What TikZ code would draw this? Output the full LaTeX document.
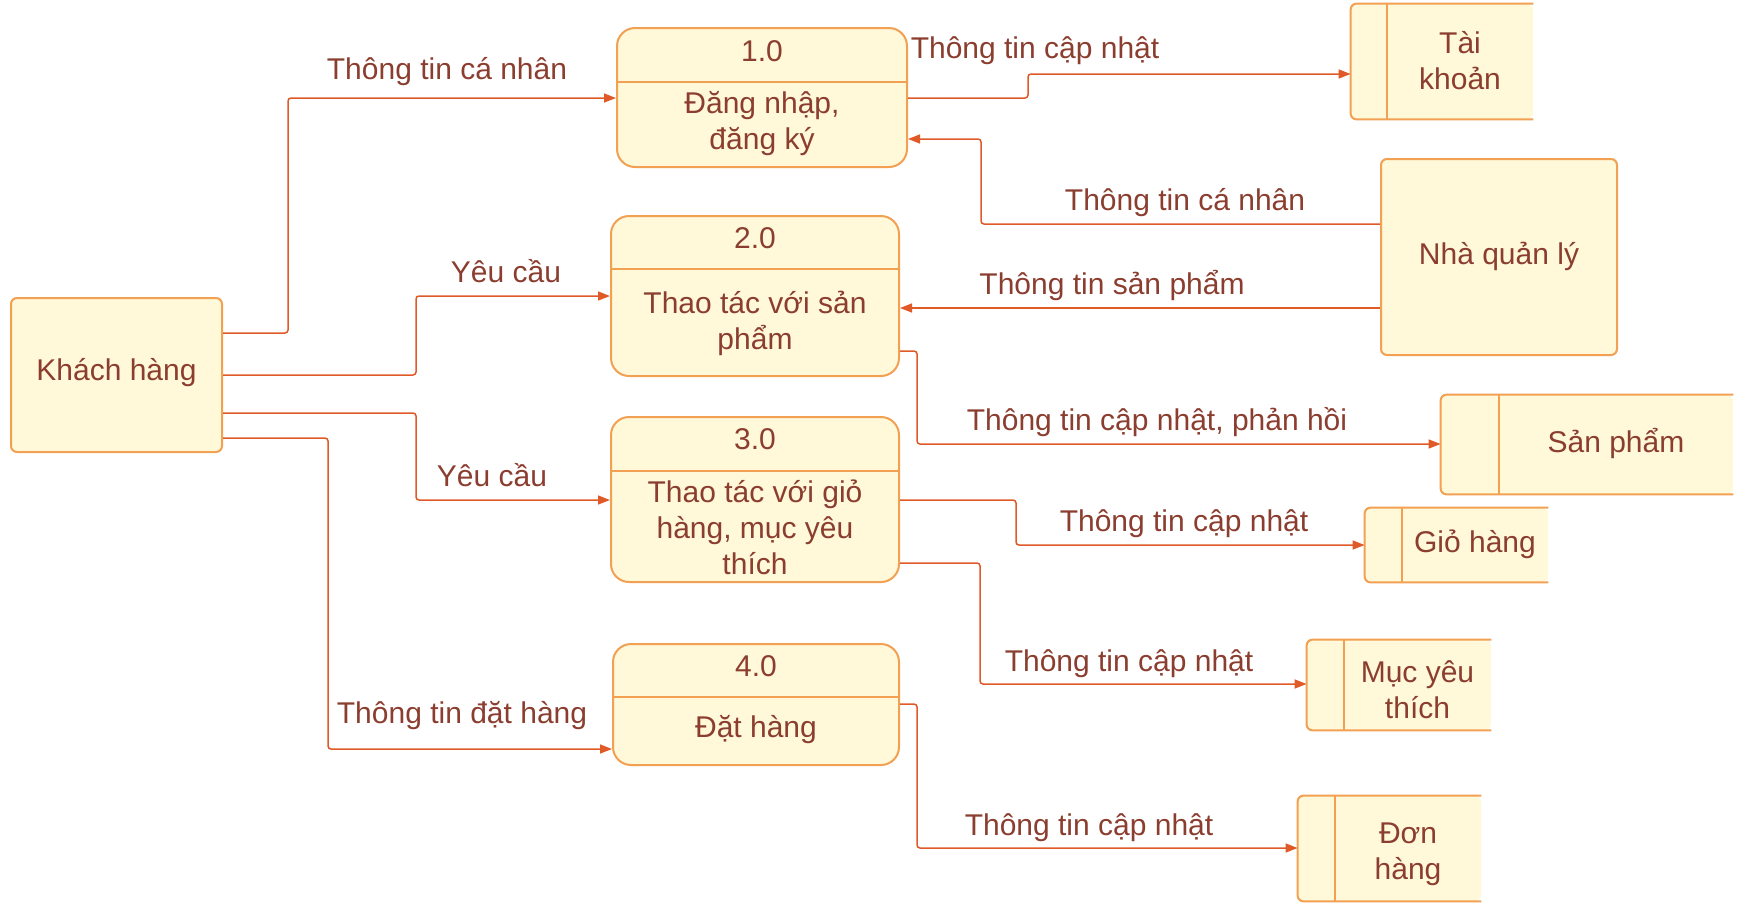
\documentclass[tikz,border=0pt]{standalone}
\usepackage{fontspec}
\setmainfont{Liberation Sans}
\usetikzlibrary{arrows.meta}
\definecolor{boxfill}{HTML}{FFF8D9}
\definecolor{boxline}{HTML}{F2A052}
\definecolor{txt}{HTML}{8B3E2F}
\definecolor{flowline}{HTML}{E05A28}
\tikzstyle{entity} = [draw=boxline, fill=boxfill, line width=1pt, rounded corners=3pt, inner sep=0pt]
\tikzstyle{proc} = [entity, rounded corners=9pt]
\tikzstyle{store} = [fill=boxfill, rounded corners=3pt, inner sep=0pt]
\tikzstyle{storeline} = [draw=boxline, line width=1pt, rounded corners=3pt]
\tikzstyle{divider} = [draw=boxline, line width=0.75pt]
\tikzstyle{lbl} = [text=txt, font=\fontsize{15}{18}\selectfont, align=center, inner sep=0pt, anchor=base]
\tikzstyle{flow} = [draw=flowline, line width=0.75pt, rounded corners=1.5pt, -{Triangle[length=6pt,width=4.5pt]}]

\begin{document}
\begin{tikzpicture}[x=0.5pt, y=-0.5pt]
    \useasboundingbox (0,0) rectangle (1741,911);
    % external entities
    \node[entity, minimum width=105.5pt, minimum height=77pt](kh) at (116.5,375){};
    \node[lbl](kht) at (116.5,380){Khách hàng};
    \node[entity, minimum width=118pt, minimum height=98pt](nql) at (1499,257){};
    \node[lbl](nqlt) at (1499,264){Nhà quản lý};
    % processes (multi-line texts sit on their last baseline)
    \node[proc, minimum width=145pt, minimum height=69.5pt](p1) at (762,97.5){};
    \draw[divider] (p1.west |- 0,82) -- (p1.east |- 0,82);
    \node[lbl](p1n) at (762,61){1.0};
    \node[lbl](p1t) at (762,149){Đăng nhập,\\đăng ký};
    \node[proc, minimum width=144pt, minimum height=80pt](p2) at (755,296){};
    \draw[divider] (p2.west |- 0,269) -- (p2.east |- 0,269);
    \node[lbl](p2n) at (755,248){2.0};
    \node[lbl](p2t) at (755,349){Thao tác với sản\\phẩm};
    \node[proc, minimum width=144pt, minimum height=82.5pt](p3) at (755,499.5){};
    \draw[divider] (p3.west |- 0,471) -- (p3.east |- 0,471);
    \node[lbl](p3n) at (755,449){3.0};
    \node[lbl](p3t) at (755,574){Thao tác với giỏ\\hàng, mục yêu\\thích};
    \node[proc, minimum width=143pt, minimum height=60.5pt](p4) at (756,704.5){};
    \draw[divider] (p4.west |- 0,697) -- (p4.east |- 0,697);
    \node[lbl](p4n) at (756,676){4.0};
    \node[lbl](p4t) at (756,737){Đặt hàng};
    % data stores
    \node[store, minimum width=91pt, minimum height=57.5pt](tk) at (1442,61.5){};
    \draw[storeline] (tk.north east) -- (tk.north west) -- (tk.south west) -- (tk.south east);
    \draw[storeline] (tk.north west) ++(36,0) -- ++(0,115);
    \node[lbl](tkt) at (1460,89){Tài\\khoản};
    \node[store, minimum width=146pt, minimum height=49.5pt](sp) at (1587,444.5){};
    \draw[storeline] (sp.north east) -- (sp.north west) -- (sp.south west) -- (sp.south east);
    \draw[storeline] (sp.north west) ++(58,0) -- ++(0,99);
    \node[lbl](spt) at (1616,452){Sản phẩm};
    \node[store, minimum width=91.5pt, minimum height=37pt](gh) at (1456.5,545){};
    \draw[storeline] (gh.north east) -- (gh.north west) -- (gh.south west) -- (gh.south east);
    \draw[storeline] (gh.north west) ++(37,0) -- ++(0,74);
    \node[lbl](ght) at (1475,552){Giỏ hàng};
    \node[store, minimum width=92pt, minimum height=45pt](myt) at (1399,685){};
    \draw[storeline] (myt.north east) -- (myt.north west) -- (myt.south west) -- (myt.south east);
    \draw[storeline] (myt.north west) ++(37,0) -- ++(0,90);
    \node[lbl](mytt) at (1417.5,718){Mục yêu\\thích};
    \node[store, minimum width=91.5pt, minimum height=52.5pt](dh) at (1389.5,848.5){};
    \draw[storeline] (dh.north east) -- (dh.north west) -- (dh.south west) -- (dh.south east);
    \draw[storeline] (dh.north west) ++(37,0) -- ++(0,105);
    \node[lbl](dht) at (1408,879){Đơn\\hàng};
    % flows
    \draw[flow] (kh.east |- 0,333) -| (288,98) -- (p1.west |- 0,98);
    \draw[flow] (kh.east |- 0,375) -| (416,296) -- (p2.west |- 0,296);
    \draw[flow] (kh.east |- 0,413) -| (416,500) -- (p3.west |- 0,500);
    \draw[flow] (kh.east |- 0,438) -| (328,749) -- (p4.west |- 0,749);
    \draw[flow] (p1.east |- 0,98) -| (1028,74) -- (tk.west |- 0,74);
    \draw[flow] (nql.west |- 0,224) -| (981,139) -- (p1.east |- 0,139);
    \draw[flow] (nql.west |- 0,308) -- (p2.east |- 0,308);
    \draw[flow] (p2.east |- 0,351) -| (917,444) -- (sp.west |- 0,444);
    \draw[flow] (p3.east |- 0,500) -| (1016,545) -- (gh.west |- 0,545);
    \draw[flow] (p3.east |- 0,563) -| (980,684) -- (myt.west |- 0,684);
    \draw[flow] (p4.east |- 0,704) -| (917,848) -- (dh.west |- 0,848);
    % flow labels
    \node[lbl](l1) at (447,79){Thông tin cá nhân};
    \node[lbl](l2) at (506,282){Yêu cầu};
    \node[lbl](l3) at (492,486){Yêu cầu};
    \node[lbl](l4) at (462,723){Thông tin đặt hàng};
    \node[lbl](l5) at (1035,58){Thông tin cập nhật};
    \node[lbl](l6) at (1185,210){Thông tin cá nhân};
    \node[lbl](l7) at (1112,294){Thông tin sản phẩm};
    \node[lbl](l8) at (1157,430){Thông tin cập nhật, phản hồi};
    \node[lbl](l9) at (1184,531){Thông tin cập nhật};
    \node[lbl](l10) at (1129,671){Thông tin cập nhật};
    \node[lbl](l11) at (1089,835){Thông tin cập nhật};
\end{tikzpicture}
\end{document}
